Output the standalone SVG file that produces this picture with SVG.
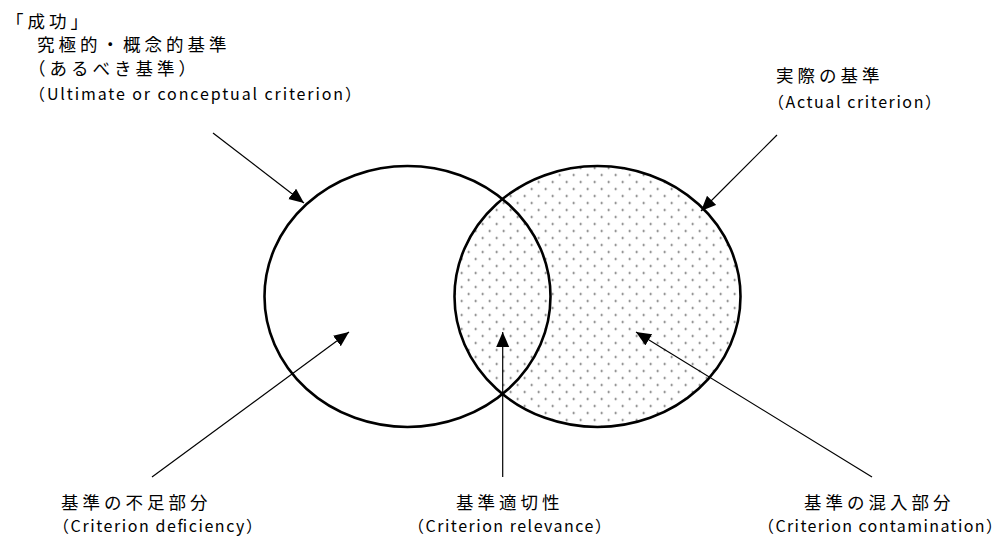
<svg xmlns="http://www.w3.org/2000/svg" width="1001" height="540" viewBox="0 0 1001 540">
<style>
.jp{font-family:"Noto Sans CJK JP","Noto Sans CJK SC",sans-serif;font-size:17.5px;letter-spacing:4px;fill:#000}
.en{font-family:"Noto Sans CJK JP","Noto Sans",sans-serif;font-size:16px;fill:#000}
.ring{fill:none;stroke:#000;stroke-width:2.6}
.arrow{stroke:#000;stroke-width:1.2;fill:none;marker-end:url(#ah)}
</style>
<defs>
<pattern id="dots" patternUnits="userSpaceOnUse" x="3.2" y="-3.5" width="14" height="14">
<circle cx="3.5" cy="3.5" r="1" fill="#555"/>
<circle cx="10.5" cy="10.5" r="1" fill="#555"/>
</pattern>
<marker id="ah" markerUnits="userSpaceOnUse" markerWidth="16" markerHeight="14" refX="15" refY="6.5" orient="auto">
<path d="M0,0 L15,6.5 L0,13 z" fill="#000"/>
</marker>
</defs>
<rect width="1001" height="540" fill="#fff"/>
<g id="actual-criterion">
<ellipse cx="597.5" cy="296.5" rx="143" ry="130.5" fill="url(#dots)"/>
<ellipse class="ring" cx="597.5" cy="296.5" rx="143" ry="130.5"/>
<text class="jp" x="776" y="82">実際の基準</text>
<text class="en" x="768" y="108" textLength="173" lengthAdjust="spacing">（Actual criterion）</text>
</g>
<g id="ultimate-criterion">
<ellipse class="ring" cx="407.5" cy="296.5" rx="143" ry="130.5"/>
<text class="jp" x="6" y="28">「成功」</text>
<text class="jp" x="37" y="51">究極的・概念的基準</text>
<text class="jp" x="28" y="75">（あるべき基準）</text>
<text class="en" x="29" y="100" textLength="332" lengthAdjust="spacing">（Ultimate or conceptual criterion）</text>
</g>
<g id="deficiency">
<text class="jp" x="61" y="509">基準の不足部分</text>
<text class="en" x="53" y="532" textLength="209" lengthAdjust="spacing">（Criterion deficiency）</text>
</g>
<g id="relevance">
<text class="jp" x="456" y="509">基準適切性</text>
<text class="en" x="408" y="532" textLength="203" lengthAdjust="spacing">（Criterion relevance）</text>
</g>
<g id="contamination">
<text class="jp" x="804" y="509">基準の混入部分</text>
<text class="en" x="758" y="532" textLength="244" lengthAdjust="spacing">（Criterion contamination）</text>
</g>
<g id="connectors">
<line class="arrow" x1="213" y1="133" x2="304" y2="203"/>
<line class="arrow" x1="777" y1="135" x2="701" y2="211"/>
<line class="arrow" x1="152" y1="477" x2="349" y2="332"/>
<line class="arrow" x1="502.7" y1="477" x2="502.7" y2="332"/>
<line class="arrow" x1="872" y1="477" x2="636" y2="332"/>
</g>
</svg>
